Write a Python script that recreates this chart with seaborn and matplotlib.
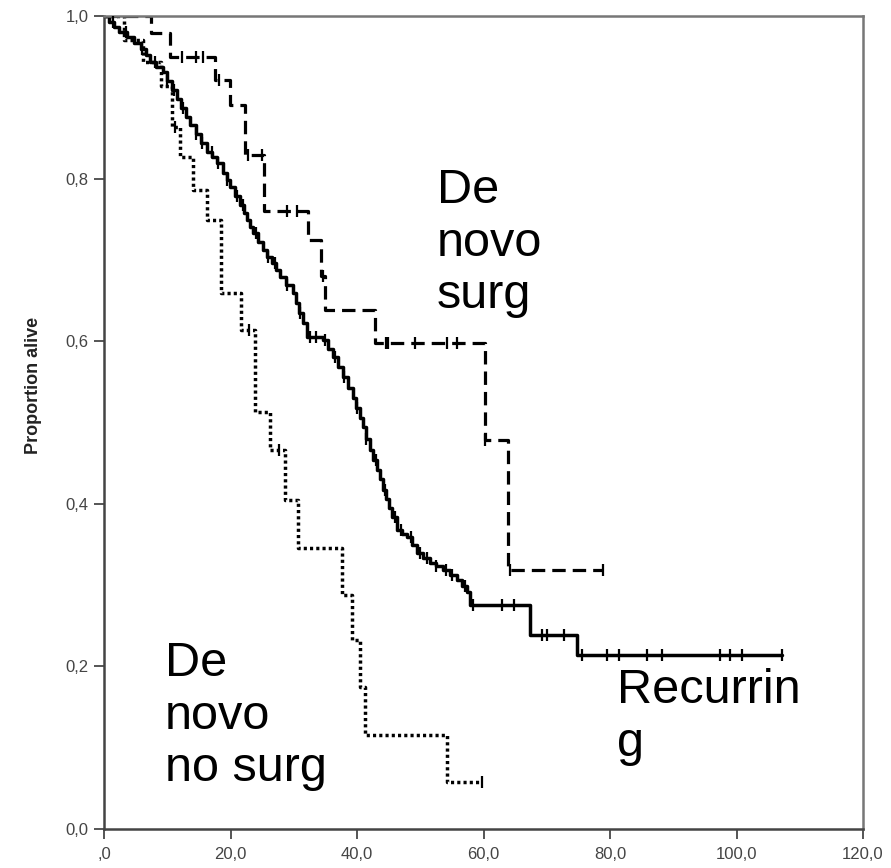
import numpy as np
import pandas as pd
import matplotlib
matplotlib.use("Agg")
import matplotlib.pyplot as plt
from matplotlib import font_manager
import seaborn as sns

# Kaplan-Meier step values (months, proportion alive)
recurring_t = [0.0, 0.8, 1.6, 2.4, 3.6, 4.8, 5.8, 6.6, 7.3, 8.3, 9.3, 10.0, 10.8,
               11.5, 12.2, 12.9, 13.6, 14.5, 15.4, 16.3, 17.1, 17.9, 18.8, 19.4,
               19.9, 20.7, 21.5, 22.1, 22.6, 23.1, 23.6, 24.3, 25.1, 25.8, 26.5,
               27.2, 27.8, 28.8, 29.9, 30.4, 30.9, 31.5, 32.1, 34.6, 35.4, 36.2,
               37.0, 37.8, 38.6, 39.4, 39.9, 40.4, 40.9, 41.5, 42.1, 42.6, 43.2,
               43.6, 44.1, 44.6, 45.0, 45.5, 46.3, 47.1, 47.9, 48.7, 49.5, 50.5,
               51.5, 52.5, 53.6, 54.7, 55.8, 56.6, 57.4, 57.9, 67.4, 74.8, 107.2]
recurring_s = [1.0, 0.993, 0.987, 0.980, 0.974, 0.967, 0.960, 0.952, 0.943, 0.937,
               0.931, 0.920, 0.909, 0.898, 0.887, 0.876, 0.866, 0.855, 0.844, 0.833,
               0.826, 0.819, 0.807, 0.798, 0.790, 0.779, 0.768, 0.758, 0.749, 0.741,
               0.733, 0.722, 0.712, 0.704, 0.696, 0.687, 0.679, 0.669, 0.659, 0.647,
               0.635, 0.622, 0.605, 0.601, 0.591, 0.581, 0.568, 0.556, 0.543, 0.530,
               0.518, 0.506, 0.494, 0.480, 0.466, 0.454, 0.442, 0.430, 0.417, 0.406,
               0.395, 0.384, 0.368, 0.363, 0.359, 0.349, 0.339, 0.333, 0.327, 0.323,
               0.319, 0.312, 0.306, 0.299, 0.292, 0.2755, 0.2386, 0.214, 0.214]
recurring_cens = [1.5, 3.5, 6.0, 8.0, 10.0, 11.0, 12.5, 14.5, 15.5, 17.0, 18.0, 19.5,
                  21.0, 22.0, 24.0, 26.0, 27.0, 29.0, 31.0, 32.5, 33.5, 35.0, 36.5,
                  38.0, 40.0, 41.5, 43.0, 44.5, 46.0, 47.0, 48.5, 50.0, 51.0, 52.5,
                  54.0, 55.0, 57.0, 58.3, 63.0, 64.8, 69.2, 70.0, 72.8, 75.5, 79.5,
                  81.5, 85.8, 88.2, 97.4, 99.0, 100.9, 107.2]

surg_t = [0.0, 7.4, 10.4, 17.5, 19.9, 22.3, 25.3, 32.2, 34.3, 34.9, 42.8, 60.2,
          63.9, 78.9]
surg_s = [1.0, 0.979, 0.950, 0.921, 0.890, 0.829, 0.760, 0.724, 0.680, 0.638,
          0.598, 0.478, 0.319, 0.319]
surg_cens = [12.3, 14.5, 15.6, 18.2, 22.8, 25.0, 28.9, 30.5, 34.6, 44.6, 44.9,
             49.2, 54.2, 55.8, 60.3, 64.2, 78.9]

nosurg_t = [0.0, 3.2, 6.2, 9.0, 10.8, 12.0, 14.1, 16.3, 18.5, 21.7, 23.8, 26.2,
            28.6, 30.7, 37.6, 39.2, 40.5, 41.3, 54.2, 59.8]
nosurg_s = [1.0, 0.971, 0.943, 0.914, 0.863, 0.826, 0.786, 0.749, 0.659, 0.614,
            0.513, 0.466, 0.405, 0.346, 0.288, 0.232, 0.175, 0.116, 0.058, 0.058]
nosurg_cens = [11.3, 23.0, 27.7, 59.8]

x_ticks = [0, 20, 40, 60, 80, 100, 120]
x_labels = [",0", "20,0", "40,0", "60,0", "80,0", "100,0", "120,0"]
y_ticks = [0.0, 0.2, 0.4, 0.6, 0.8, 1.0]
y_labels = ["0,0", "0,2", "0,4", "0,6", "0,8", "1,0"]

sns.set_theme(style="ticks")
plt.rcParams["font.family"] = ["Liberation Sans", "DejaVu Sans"]

available = {f.name for f in font_manager.fontManager.ttflist}
narrow = "Liberation Sans Narrow" if "Liberation Sans Narrow" in available else "Liberation Sans"

fig = plt.figure(figsize=(8.91, 8.68), dpi=100)
ax = fig.add_axes([104 / 891, 1 - 829 / 868, 759 / 891, 813 / 868])


def step_value(ts, ss, t):
    idx = np.searchsorted(ts, t, side="right") - 1
    return ss[max(idx, 0)]


groups = [
    ("Recurring", recurring_t, recurring_s, recurring_cens, "-", 2.5),
    ("De novo surg", surg_t, surg_s, surg_cens, (0, (4.2, 2.2)), 2.3),
    ("De novo no surg", nosurg_t, nosurg_s, nosurg_cens, (0, (0.9, 0.9)), 2.5),
]

for name, ts, ss, cens, ls, lw in groups:
    curve = pd.DataFrame({"time": ts, "surv": ss})
    sns.lineplot(data=curve, x="time", y="surv", ax=ax, color="black",
                 drawstyle="steps-post", estimator=None, sort=False,
                 linewidth=lw, linestyle=ls)
    marks = pd.DataFrame({"time": cens,
                          "surv": [step_value(ts, ss, c) for c in cens]})
    sns.scatterplot(data=marks, x="time", y="surv", ax=ax, marker="|",
                    s=70, linewidth=1.6, color="black", zorder=3)

ax.set_xlim(0, 120)
ax.set_ylim(0, 1.0)
ax.set_xticks(x_ticks)
ax.set_xticklabels(x_labels)
ax.set_yticks(y_ticks)
ax.set_yticklabels(y_labels)
ax.tick_params(axis="both", direction="out", length=7, width=1.4,
               colors="#555555", labelcolor="#444444", labelsize=12, pad=4)
ax.tick_params(axis="x", pad=6)
for side, sp in ax.spines.items():
    sp.set_visible(True)
    sp.set_linewidth(1.8)
    sp.set_color("#444444" if side in ("left", "bottom") else "#777777")

ax.set_xlabel("")
ax.set_ylabel("Proportion alive", fontsize=13, fontweight="bold",
              family=narrow, color="#222222")
ax.yaxis.set_label_coords(-0.082, 0.546)

label_kw = dict(fontsize=35, color="black", va="top", ha="left",
                linespacing=1.22, family=["Liberation Sans", "DejaVu Sans"])
fig.text(437 / 891, 1 - 168 / 868, "De\nnovo\nsurg", **label_kw)
fig.text(617 / 891, 1 - 668 / 868, "Recurrin\ng", **label_kw)
fig.text(165 / 891, 1 - 641 / 868, "De\nnovo\nno surg", **label_kw)

fig.savefig("out.png", dpi=100, facecolor="white")
